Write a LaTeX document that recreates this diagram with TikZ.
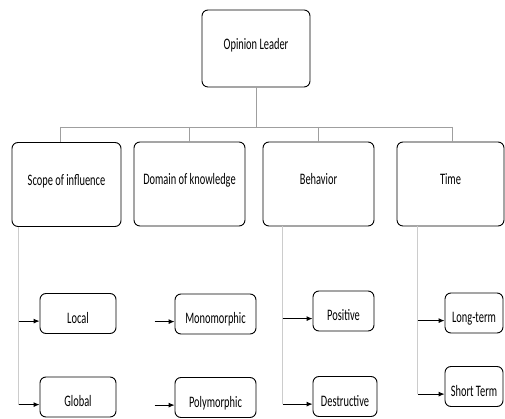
\documentclass[tikz,border=0pt]{standalone}
\usepackage{fontspec}
\setmainfont{Carlito}
\usetikzlibrary{positioning,arrows.meta}
\newcommand{\lbl}[1]{\scalebox{0.65}[1]{#1}}

\tikzset{
  box/.style={draw=black, line width=0.9pt, rounded corners=6pt, align=center, font=\fontsize{16}{18}\selectfont},
  topbox/.style={box, minimum width=108pt, minimum height=77pt, text height=12pt, text depth=10pt},
  catbox/.style={box, minimum height=84pt, text height=12pt, text depth=10pt},
  leaf/.style={box, minimum height=40pt, text height=22pt, text depth=2pt},
  link/.style={draw=gray!75, line width=0.8pt},
  stem/.style={draw=gray!40, line width=0.8pt},
  feed/.style={->, draw=black, line width=0.9pt}
}

\begin{document}
\begin{tikzpicture}[x=1pt,y=1pt,>={Latex[length=6pt,width=5pt]}]
	\useasboundingbox (0,0) rectangle (505,419);

	% the root
	\node[topbox] (leader) at (256,370.5) {\lbl{Opinion Leader}};

	% the four categories
	\node[catbox, minimum width=109pt] (scope) at (66.5,234.5) {\lbl{Scope of influence}};
	\node[catbox, minimum width=111pt] (domain) at (189.5,235) {\lbl{Domain of knowledge}};
	\node[catbox, minimum width=111pt] (behav) at (318.5,235) {\lbl{Behavior}};
	\node[catbox, minimum width=107pt] (time) at (450.5,235) {\lbl{Time}};

	% the bar joining them
	\coordinate (barleft) at (60,292);
	\coordinate (barright) at (452,292);
	\draw[link] (leader.south) -- (leader.south |- barleft);
	\draw[link] (barleft) -- (barright);
	\draw[link] (barleft) -- (barleft |- scope.north);
	\draw[link] (domain.north |- barleft) -- (domain.north);
	\draw[link] (behav.north |- barleft) -- (behav.north);
	\draw[link] (barright) -- (barright |- time.north);

	% the leaves
	\node[leaf, minimum width=76pt] (local) at (78,105.5) {\lbl{Local}};
	\node[leaf, minimum width=76pt] (global) at (78,22) {\lbl{Global}};
	\node[leaf, minimum width=81pt] (mono) at (215.5,105) {\lbl{Monomorphic}};
	\node[leaf, minimum width=81pt] (poly) at (215.5,21.5) {\lbl{Polymorphic}};
	\node[leaf, minimum width=61pt] (pos) at (343.5,108) {\lbl{Positive}};
	\node[leaf, minimum width=64pt] (dest) at (345,22.5) {\lbl{Destructive}};
	\node[leaf, minimum width=58pt] (long) at (474,106) {\lbl{Long-term}};
	\node[leaf, minimum width=58pt] (short) at (474,32.5) {\lbl{Short Term}};

	% scope of influence
	\coordinate (scopeline) at ([xshift=7pt]scope.south west);
	\draw[stem] (scopeline) -- (scopeline |- global.mid west);
	\draw[feed] (scopeline |- local.mid west) -- (local.mid west);
	\draw[feed] (scopeline |- global.mid west) -- (global.mid west);

	% domain of knowledge
	\coordinate (monotail) at ([xshift=-20pt]mono.mid west);
	\coordinate (polytail) at ([xshift=-20pt]poly.mid west);
	\draw[feed] (monotail) -- (mono.mid west);
	\draw[feed] (polytail) -- (poly.mid west);

	% behavior
	\coordinate (behavline) at ([xshift=20pt]behav.south west);
	\draw[stem] (behavline) -- (behavline |- dest.mid west);
	\draw[feed] (behavline |- pos.mid west) -- (pos.mid west);
	\draw[feed] (behavline |- dest.mid west) -- (dest.mid west);

	% time
	\coordinate (timeline) at ([xshift=21pt]time.south west);
	\draw[stem] (timeline) -- (timeline |- short.mid west);
	\draw[feed] (timeline |- long.mid west) -- (long.mid west);
	\draw[feed] (timeline |- short.mid west) -- (short.mid west);

\end{tikzpicture}
\end{document}
